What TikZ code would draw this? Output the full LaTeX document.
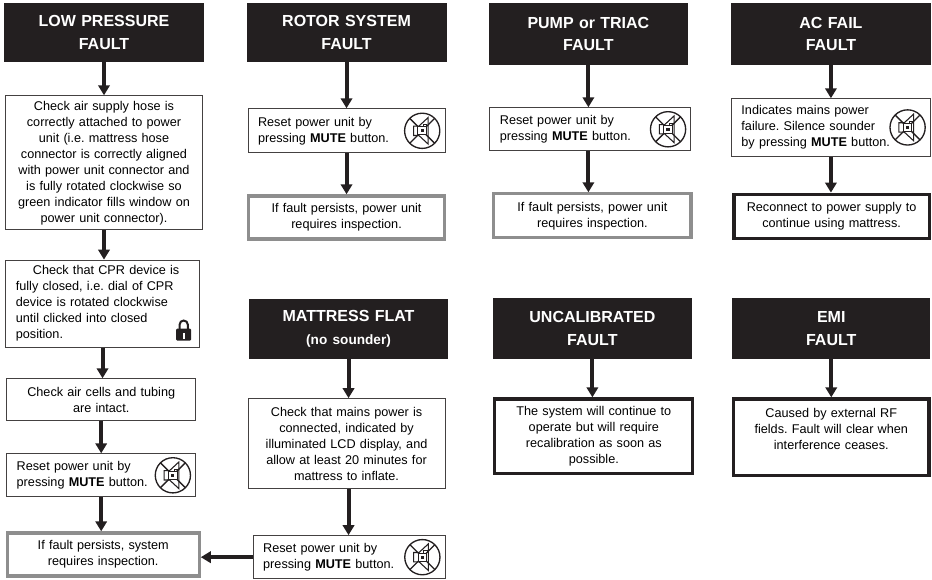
\documentclass[tikz,border=0pt]{standalone}
\usepackage{fontspec}
\setmainfont{Liberation Sans}
\usepackage{xcolor}
\usetikzlibrary{positioning,arrows.meta}
\definecolor{inkblack}{HTML}{231F20}
\definecolor{framegray}{HTML}{8E8E8E}
\tikzset{
    % Speaker with the cross and the small padlock
    muteicon/.pic={
        \draw[inkblack, line width=1pt] (0,0) circle (13.2pt);
        \draw[inkblack, line width=.8pt] (-6.5pt,-3.5pt) -- (-6.5pt,3.5pt) -- (-2.5pt,3.5pt) -- (4.5pt,10pt) -- (4.5pt,-10pt) -- (-2.5pt,-3.5pt) -- cycle;
        \draw[inkblack, line width=1pt] (-9.3pt,9.3pt) -- (9.3pt,-9.3pt) (9.3pt,9.3pt) -- (-9.3pt,-9.3pt);
        \draw[inkblack, fill=white, line width=.5pt] (-3.4pt,-3pt) rectangle (3pt,3pt);
        \fill[inkblack] (-1.2pt,-1.2pt) rectangle (1.2pt,1.2pt);
        \draw[inkblack, line width=.5pt] (1pt,3pt) -- (1pt,4.8pt) -- (3.4pt,4.8pt) -- (3.4pt,3.4pt);
    },
    padlock/.pic={
        \draw[inkblack, line width=1.5pt] (-3.1pt,8pt) -- (-3.1pt,12pt) arc (180:0:3.1pt) -- (3.1pt,8pt);
        \fill[inkblack, rounded corners=.8pt] (-5.6pt,0) rectangle (5.6pt,9pt);
        \fill[white] (-.7pt,1.6pt) rectangle (.7pt,5.8pt);
    }
}
\begin{document}
\begin{tikzpicture}[
        % Distancia entre columnas de cabeceras
        node distance=31.5pt,
        faulthead/.style={rectangle, fill=inkblack, text=white, font=\fontsize{12}{17}\selectfont\bfseries, text width=150pt, inner xsep=0pt, inner ysep=0pt, text centered, minimum height=44.25pt},
        notebox/.style={rectangle, draw=inkblack!85, line width=.75pt, font=\fontsize{9.5}{12}\selectfont\frenchspacing, inner xsep=3pt, inner ysep=0pt, text centered},
        leftbox/.style={notebox, inner xsep=7.5pt, align=left},
        graybox/.style={notebox, draw=framegray, line width=2.4pt},
        blackbox/.style={notebox, draw=inkblack, line width=2.4pt},
        flow/.style={-{Triangle[width=8.5pt,length=7.5pt]}, line width=3pt, draw=inkblack}
    ]
        \useasboundingbox (0,0) rectangle (699pt,-434.25pt);

        % Cabeceras
        \node [faulthead] (lowpressure) at (78pt,-24.4pt) {LOW PRESSURE\\FAULT};
        \node [faulthead, right=of lowpressure] (rotor) {ROTOR SYSTEM\\FAULT};
        \node [faulthead, right=of rotor, yshift=-1.1pt, minimum height=46.5pt, text width=149pt] (pump) {PUMP or TRIAC\\FAULT};
        \node [faulthead, right=32pt of pump, minimum height=46.5pt] (acfail) {AC FAIL\\FAULT};
        \node [faulthead, below=177pt of rotor, xshift=1.5pt, minimum height=45pt, text width=149pt] (flat) {MATTRESS FLAT\\{\fontsize{10.2}{13}\selectfont (no sounder)}};
        \node [faulthead, right=33.5pt of flat, minimum height=45.75pt, text width=149pt] (uncal) {UNCALIBRATED\\FAULT};
        \node [faulthead, right=30pt of uncal, minimum height=45.75pt, text width=148.5pt] (emi) {EMI\\FAULT};

        % Columna 1
        \node [notebox, below=24.75pt of lowpressure, text width=141.4pt, minimum height=100.5pt] (hose) {Check air supply hose is\\correctly attached to power\\unit (i.e. mattress hose\\connector is correctly aligned\\with power unit connector and\\is fully rotated clockwise so\\green indicator fills window on\\power unit connector).};
        \node [leftbox, below=22pt of hose, xshift=-1.1pt, text width=130pt, minimum height=65.25pt] (cpr) {\hspace*{12.75pt}Check that CPR device is\\fully closed, i.e. dial of CPR\\device is rotated clockwise\\until clicked into closed\\position.};
        \node [notebox, below=23pt of cpr, xshift=-1pt, text width=135.75pt, minimum height=31pt] (cells) {Check air cells and tubing\\are intact.};
        \node [leftbox, below=24.5pt of cells, text width=126.75pt, minimum height=32.25pt] (resetlow) {Reset power unit by\\pressing \textbf{MUTE} button.};
        \node [graybox, below=25.5pt of resetlow, xshift=1.5pt, text width=138pt, minimum height=32.25pt] (inspectlow) {If fault persists, system\\requires inspection.};

        % Columna 2
        \node [leftbox, below=34.5pt of rotor, text width=132.75pt, minimum height=33pt] (resetrotor) {Reset power unit by\\pressing \textbf{MUTE} button.};
        \node [graybox, below=30.75pt of resetrotor, text width=141pt, minimum height=32.25pt] (inspectrotor) {If fault persists, power unit\\requires inspection.};
        \node [notebox, below=29.5pt of flat, xshift=-1.5pt, text width=141.75pt, minimum height=67.5pt] (mains) {Check that mains power is\\connected, indicated by\\illuminated LCD display, and\\allow at least 20 minutes for\\mattress to inflate.};
        \node [leftbox, below=34.5pt of mains, xshift=2pt, text width=129pt, minimum height=32.25pt] (resetflat) {Reset power unit by\\pressing \textbf{MUTE} button.};

        % Columna 3
        \node [leftbox, below=31.5pt of pump, xshift=1.5pt, text width=135.75pt, minimum height=32.25pt] (resetpump) {Reset power unit by\\pressing \textbf{MUTE} button.};
        \node [graybox, below=30.75pt of resetpump, xshift=1.5pt, text width=142pt, minimum height=33pt] (inspectpump) {If fault persists, power unit\\requires inspection.};
        \node [blackbox, below=28.5pt of uncal, xshift=1.1pt, text width=142.5pt, minimum height=56pt] (calib) {The system will continue to\\operate but will require\\recalibration as soon as\\possible.};

        % Columna 4
        \node [leftbox, below=24.75pt of acfail, text width=134.25pt, minimum height=43pt] (mainsfail) {Indicates mains power\\failure. Silence sounder\\by pressing \textbf{MUTE} button.};
        \node [blackbox, below=27pt of mainsfail, xshift=.5pt, text width=140.5pt, minimum height=33.5pt] (reconnect) {Reconnect to power supply to\\continue using mattress.};
        \node [blackbox, below=28.5pt of emi, text width=140.5pt, minimum height=57.5pt] (rffields) {Caused by external RF\\fields. Fault will clear when\\interference ceases.\\~};

        % Iconos
        \foreach \resetname in {resetlow,resetrotor,resetpump,mainsfail,resetflat}
            \pic at ([xshift=-17.5pt]\resetname.east) {muteicon};
        \pic at ([shift={(-12pt,5.25pt)}]cpr.south east) {padlock};

        % Flechas
        \draw[flow] (lowpressure) -- (lowpressure |- hose.north);
        \draw[flow] (hose) -- (hose |- cpr.north);
        \draw[flow] (cpr) -- (cpr |- cells.north);
        \draw[flow] (cells) -- (cells |- resetlow.north);
        \draw[flow] (resetlow) -- (resetlow |- inspectlow.north);
        \draw[flow] (rotor) -- (resetrotor);
        \draw[flow] (resetrotor) -- (inspectrotor);
        \draw[flow] (pump) -- (pump |- resetpump.north);
        \draw[flow] (pump |- resetpump.south) -- (pump |- inspectpump.north);
        \draw[flow] (acfail) -- (acfail |- mainsfail.north);
        \draw[flow] (mainsfail) -- (mainsfail |- reconnect.north);
        \draw[flow] (flat) -- (flat |- mains.north);
        \draw[flow] (flat |- mains.south) -- (flat |- resetflat.north);
        \draw[flow] (uncal) -- (uncal |- calib.north);
        \draw[flow] (emi) -- (emi |- rffields.north);
        \draw[flow] (resetflat.west) -- (inspectlow.east |- resetflat.west);
    \end{tikzpicture}
\end{document}
